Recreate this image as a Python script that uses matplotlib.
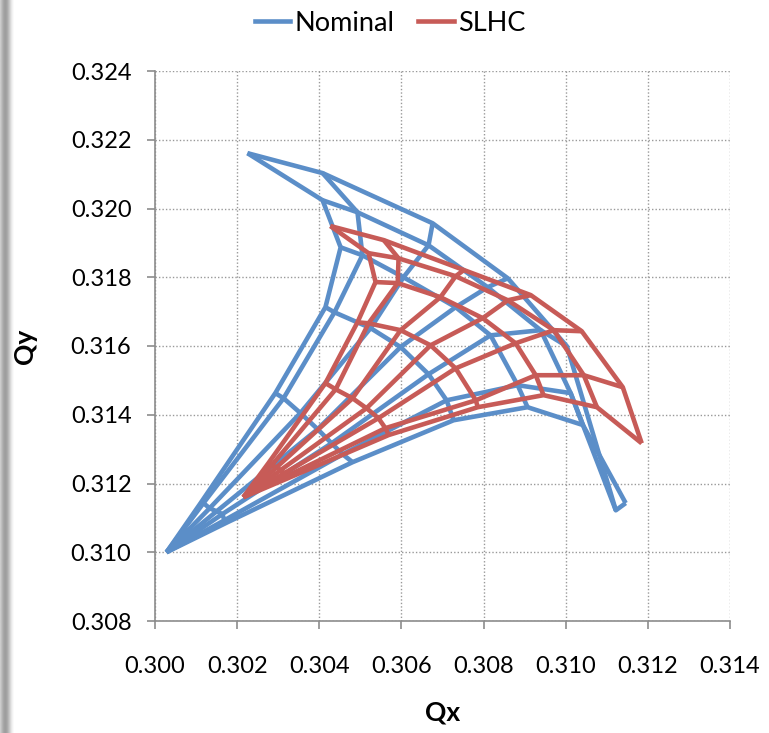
import matplotlib
matplotlib.use("Agg")
import matplotlib.pyplot as plt
import numpy as np
from matplotlib.lines import Line2D

# ---------------- data (tune footprints: rows = amplitude, columns = angle) -------------
nominal_origin_qx = 0.30028
nominal_origin_qy = 0.31000
nominal_qx = [
    [0.30111, 0.30118, 0.30133, 0.30150, 0.30164, 0.30169, 0.30176],
    [0.30293, 0.30313, 0.30354, 0.30396, 0.30430, 0.30457, 0.30481],
    [0.30415, 0.30437, 0.30525, 0.30598, 0.30666, 0.30710, 0.30727],
    [0.30452, 0.30505, 0.30605, 0.30732, 0.30817, 0.30883, 0.30907],
    [0.30408, 0.30493, 0.30666, 0.30810, 0.30939, 0.31012, 0.31042],
    [0.30225, 0.30408, 0.30676, 0.30859, 0.31003, 0.31122, 0.31146],
]
nominal_qy = [
    [0.31143, 0.31143, 0.31128, 0.31119, 0.31111, 0.31093, 0.31087],
    [0.31463, 0.31448, 0.31405, 0.31358, 0.31317, 0.31285, 0.31262],
    [0.31713, 0.31698, 0.31652, 0.31597, 0.31518, 0.31442, 0.31384],
    [0.31887, 0.31864, 0.31800, 0.31713, 0.31631, 0.31486, 0.31422],
    [0.32024, 0.31989, 0.31893, 0.31771, 0.31646, 0.31463, 0.31370],
    [0.32161, 0.32103, 0.31957, 0.31797, 0.31599, 0.31122, 0.31143],
]

slhc_origin_qx = 0.30215
slhc_origin_qy = 0.31160
slhc_qx = [
    [0.30276, 0.30284, 0.30296, 0.30306, 0.30315, 0.30320, 0.30323],
    [0.30415, 0.30440, 0.30481, 0.30515, 0.30544, 0.30561, 0.30569],
    [0.30493, 0.30520, 0.30598, 0.30671, 0.30732, 0.30781, 0.30786],
    [0.30537, 0.30591, 0.30695, 0.30798, 0.30878, 0.30927, 0.30946],
    [0.30520, 0.30593, 0.30732, 0.30859, 0.30971, 0.31044, 0.31076],
    [0.30427, 0.30557, 0.30752, 0.30915, 0.31039, 0.31139, 0.31185],
]
slhc_qy = [
    [0.31259, 0.31253, 0.31247, 0.31239, 0.31230, 0.31221, 0.31215],
    [0.31492, 0.31474, 0.31448, 0.31419, 0.31390, 0.31361, 0.31341],
    [0.31669, 0.31666, 0.31646, 0.31602, 0.31535, 0.31442, 0.31422],
    [0.31786, 0.31783, 0.31742, 0.31681, 0.31608, 0.31515, 0.31457],
    [0.31870, 0.31855, 0.31803, 0.31733, 0.31646, 0.31515, 0.31422],
    [0.31949, 0.31908, 0.31821, 0.31748, 0.31643, 0.31480, 0.31317],
]

series_names = ["Nominal", "SLHC"]
x_ticks = [0.300, 0.302, 0.304, 0.306, 0.308, 0.310, 0.312, 0.314]
y_ticks = [0.308, 0.310, 0.312, 0.314, 0.316, 0.318, 0.320, 0.322, 0.324]

# ---------------- style ----------------
plt.rcParams["font.family"] = ["Lato", "DejaVu Sans"]
BLUE = "#5B8EC8"
RED = "#C75B57"
LW = 3.3

fig = plt.figure(figsize=(7.69, 7.33), dpi=100)
fig.patch.set_facecolor("white")

# left grey shadow strip
strip = fig.add_axes([0, 0, 16 / 769, 1])
grad = np.array([[0.80, 0.74, 0.68, 0.64, 0.62, 0.63, 0.67, 0.73, 0.80, 0.87, 0.93, 0.97, 1.0, 1.0]])
strip.imshow(grad, cmap="gray", vmin=0, vmax=1, aspect="auto", interpolation="bilinear")
strip.axis("off")

ax = fig.add_axes([155 / 769, 1 - 621 / 733, 575 / 769, 550 / 733])


def draw_grid(ox, oy, gx, gy, color):
    gx = np.asarray(gx)
    gy = np.asarray(gy)
    n_amp, n_ang = gx.shape
    for j in range(n_ang):
        ax.plot(np.r_[ox, gx[:, j]], np.r_[oy, gy[:, j]], color=color, lw=LW,
                solid_joinstyle="round", solid_capstyle="butt", zorder=3)
    for i in range(n_amp):
        ax.plot(gx[i], gy[i], color=color, lw=LW,
                solid_joinstyle="round", solid_capstyle="butt", zorder=3)


draw_grid(nominal_origin_qx, nominal_origin_qy, nominal_qx, nominal_qy, BLUE)
draw_grid(slhc_origin_qx, slhc_origin_qy, slhc_qx, slhc_qy, RED)

ax.set_xlim(0.300, 0.314)
ax.set_ylim(0.308, 0.324)
ax.set_xticks(x_ticks)
ax.set_yticks(y_ticks)
ax.set_xticklabels([f"{v:.3f}" for v in x_ticks])
ax.set_yticklabels([f"{v:.3f}" for v in y_ticks])

ax.grid(True, color="#999999", linestyle=(0, (1, 1.5)), linewidth=1.0, zorder=0)
ax.set_axisbelow(True)
for s in ["top", "right"]:
    ax.spines[s].set_visible(False)
for s in ["left", "bottom"]:
    ax.spines[s].set_color("#8C8C8C")
    ax.spines[s].set_linewidth(1.2)

ax.tick_params(axis="both", which="major", labelsize=17, colors="#8C8C8C",
               labelcolor="black", length=6, width=1.2, direction="out")
ax.tick_params(axis="y", pad=11)
ax.tick_params(axis="x", pad=19)

ax.set_xlabel("Qx", fontsize=19, fontweight="bold", labelpad=17)
ax.set_ylabel("Qy", fontsize=19, fontweight="bold", labelpad=24)

handles = [Line2D([0], [0], color=BLUE, lw=LW), Line2D([0], [0], color=RED, lw=LW)]
fig.legend(handles, series_names, loc="center", bbox_to_anchor=(0.507, 0.968),
           ncol=2, frameon=False, fontsize=19.5, handlelength=1.3,
           handletextpad=0.15, columnspacing=0.9)

fig.savefig("out.png", dpi=100, facecolor="white")
